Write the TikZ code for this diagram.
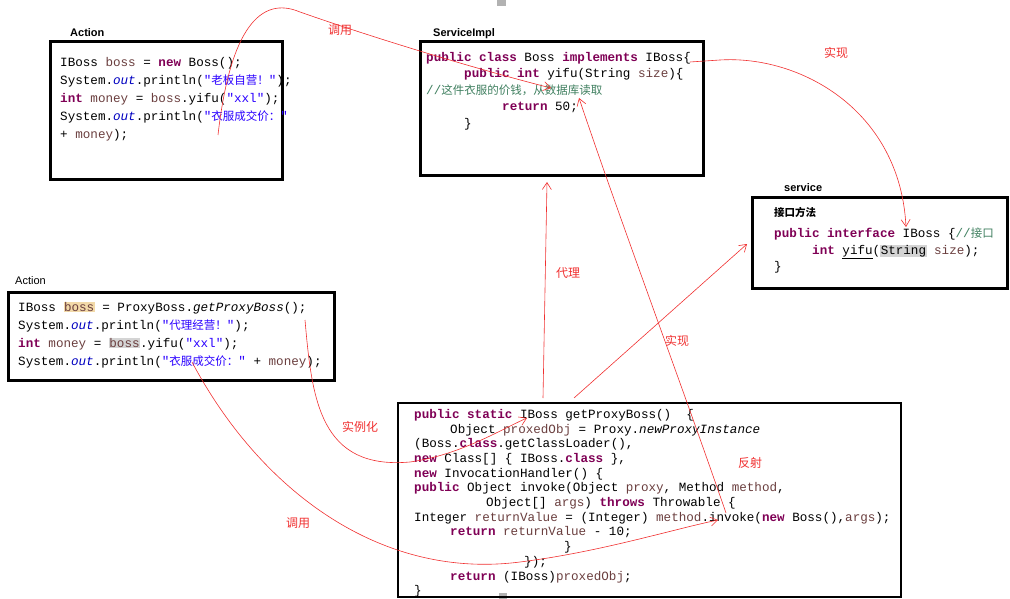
\documentclass[tikz,border=0pt]{standalone}
\usepackage{fontspec}
\setmainfont{Liberation Sans}
\setmonofont{Liberation Mono}
\newfontfamily\cjk{Noto Sans CJK SC}
\usetikzlibrary{arrows.meta}
\definecolor{kw}{HTML}{7F0055}
\definecolor{st}{HTML}{2A00FF}
\definecolor{cm}{HTML}{3F7F5F}
\definecolor{vr}{HTML}{6A3E3E}
\definecolor{fl}{HTML}{0000C0}
\definecolor{hlo}{HTML}{F2D9A8}
\definecolor{hlg}{HTML}{D4D4D4}
\definecolor{arr}{HTML}{F03030}
\newcommand\kk[1]{\textcolor{kw}{\bfseries #1}}
\newcommand\sq[1]{\textcolor{st}{#1}}
\newcommand\vv[1]{\textcolor{vr}{#1}}
\newcommand\ff[1]{\textcolor{fl}{\itshape #1}}
\newcommand\zh[1]{{\cjk\fontsize{11.5}{11}\selectfont #1}}
\newcommand\hb[2]{{\setlength\fboxsep{0.5pt}\colorbox{#1}{#2}}}
\tikzset{
  box/.style={draw=black,line width=3pt},
  pbox/.style={draw=black,line width=2pt},
  code/.style={anchor=north west,align=left,inner sep=0pt,font=\ttfamily\fontsize{12.6}{#1}\selectfont},
  title/.style={anchor=south west,inner sep=0pt,font=\bfseries\fontsize{11}{13}\selectfont},
  lab/.style={text=arr,font=\cjk\fontsize{12}{14}\selectfont,inner sep=1pt},
  rl/.style={draw=arr,line width=0.6pt,-{Straight Barb[length=7pt,width=9pt]}},
}
\begin{document}
\begin{tikzpicture}[x=1pt,y=-1pt]
\useasboundingbox (0,0) rectangle (1010,599);
\fill[gray!60] (497,0) rectangle (506,6);
\fill[gray!60] (499,593) rectangle (507,599);
% boxes
\draw[box] (50,42) rectangle (282,180);
\node[title] (t1) at (70,37) {Action};
\node[code=18] (c1) at (60,57) {IBoss \vv{boss} = \kk{new} Boss();\\
System.\ff{out}.println(\sq{"\zh{老板自营！}"});\\
\kk{int} \vv{money} = \vv{boss}.yifu(\sq{"xxl"});\\
System.\ff{out}.println(\sq{"\zh{衣服成交价：}"}\\
+ \vv{money});};
\draw[box] (420,42) rectangle (703,176);
\node[title] (t2) at (433,39) {ServiceImpl};
\node[code=16.5] (c2) at (426,52) {\kk{public} \kk{class} Boss \kk{implements} IBoss\{\\
\hspace*{38pt}\kk{public} \kk{int} yifu(String \vv{size})\{\\
\textcolor{cm}{//\zh{这件衣服的价钱，从数据库读取}}\\
\hspace*{76pt}\kk{return} 50;\\
\hspace*{38pt}\}};
\draw[box] (752,198) rectangle (1007,288);
\node[title] (t3) at (784,192) {service};
\node[anchor=north west,inner sep=0pt,font=\cjk\bfseries\fontsize{10.5}{12}\selectfont] (h3) at (774,207) {接口方法};
\node[code=16.5] (c3) at (774,228) {\kk{public} \kk{interface} IBoss \{\textcolor{cm}{//\zh{接口}}\\
\hspace*{38pt}\kk{int} \underline{yifu}(\hb{hlg}{String} \vv{size});\\
\}};
\draw[box] (8,292) rectangle (334,380);
\node[anchor=south west,inner sep=0pt,font=\fontsize{11}{13}\selectfont] (t4) at (15,285) {Action};
\node[code=18] (c4) at (18,302) {IBoss \hb{hlo}{\vv{boss}} = ProxyBoss.\textit{getProxyBoss}();\\
System.\ff{out}.println(\sq{"\zh{代理经营！}"});\\
\kk{int} \vv{money} = \hb{hlg}{\vv{boss}}.yifu(\sq{"xxl"});\\
System.\ff{out}.println(\sq{"\zh{衣服成交价：}"} + \vv{money});};
\draw[pbox] (398,403) rectangle (901,597);
\node[code=14.7] (c5) at (414,409) {\kk{public} \kk{static} IBoss getProxyBoss()\hspace*{15pt}\{\\
\hspace*{36pt}Object \vv{proxedObj} = Proxy.\textit{newProxyInstance}\\
(Boss.\kk{class}.getClassLoader(),\\
\kk{new} Class[] \{ IBoss.\kk{class} \},\\
\kk{new} InvocationHandler() \{\\
\kk{public} Object invoke(Object \vv{proxy}, Method \vv{method},\\
\hspace*{72pt}Object[] \vv{args}) \kk{throws} Throwable \{\\
Integer \vv{returnValue} = (Integer) \vv{method}.invoke(\kk{new} Boss(),\vv{args});\\
\hspace*{36pt}\kk{return} \vv{returnValue} - 10;\\
\hspace*{150pt}\}\\
\hspace*{110pt}\});\\
\hspace*{36pt}\kk{return} (IBoss)\vv{proxedObj};\\
\}};
% anchor coordinates
\coordinate (a1s) at (218,135);
\coordinate (a1e) at (551,88);
\coordinate (a2s) at (690,62);
\coordinate (a2e) at (906,227);
\coordinate (a3s) at (543,398);
\coordinate (a3e) at (547,182);
\coordinate (a4s) at (574,398);
\coordinate (a4e) at (747,244);
\coordinate (a5s) at (726,513);
\coordinate (a5e) at (579,98);
\coordinate (a6s) at (305,320);
\coordinate (a6e) at (527,418);
\coordinate (a7s) at (192,362);
\coordinate (a7e) at (718,520);
% connectors
\draw[rl] (a1s) .. controls (230,30) and (260,-5) .. (300,12) .. controls (380,40) and (480,70) .. (a1e);
\draw[rl] (a2s) -- (720,60) .. controls (800,55) and (900,110) .. (a2e);
\draw[rl] (a3s) -- (a3e);
\draw[rl] (a4s) -- (a4e);
\draw[rl] (a5s) .. controls (680,380) and (620,220) .. (a5e);
\draw[rl] (a6s) .. controls (312,400) and (320,470) .. (410,462) .. controls (460,455) and (500,430) .. (a6e);
\draw[rl] (a7s) .. controls (260,490) and (380,580) .. (520,562) .. controls (600,552) and (670,530) .. (a7e);
% labels
\node[lab] (l1) at (340,30) {调用};
\node[lab] (l2) at (836,53) {实现};
\node[lab] (l3) at (568,273) {代理};
\node[lab] (l4) at (677,341) {实现};
\node[lab] (l5) at (750,463) {反射};
\node[lab] (l6) at (360,427) {实例化};
\node[lab] (l7) at (298,523) {调用};
\end{tikzpicture}
\end{document}
